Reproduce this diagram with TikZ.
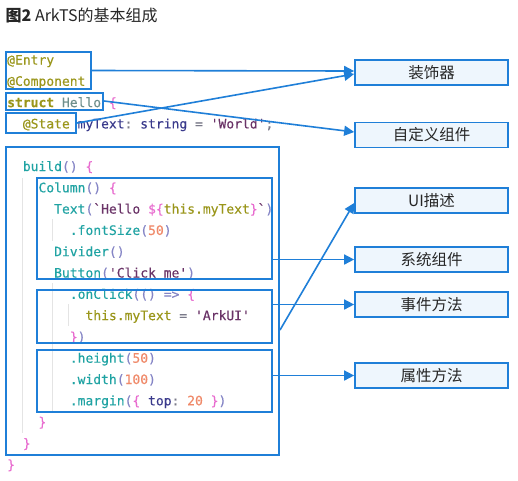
\documentclass[tikz,border=0pt]{standalone}
\usepackage{fontspec}
\setmonofont{DejaVu Sans Mono}[FakeBold=0.25]
\newfontfamily\cjkfont{Noto Sans CJK SC}
\usetikzlibrary{arrows.meta}
\definecolor{boxblue}{HTML}{1F7FD8}
\definecolor{boxfill}{HTML}{EEF6FD}
\definecolor{cAnno}{HTML}{9A961A}
\definecolor{cHello}{HTML}{6F8F8C}
\definecolor{cBrace}{HTML}{E86BCF}
\definecolor{cVar}{HTML}{3A3A8C}
\definecolor{cStr}{HTML}{6B3468}
\definecolor{cFun}{HTML}{1FA3A3}
\definecolor{cPar}{HTML}{8585C6}
\definecolor{cNum}{HTML}{F08A6A}
\definecolor{cOp}{HTML}{7A7A8A}
\definecolor{guide}{HTML}{E4E4E4}
\newcommand\kAnno[1]{\textcolor{cAnno}{#1}}
\newcommand\kHello[1]{\textcolor{cHello}{#1}}
\newcommand\kBrace[1]{\textcolor{cBrace}{#1}}
\newcommand\kVar[1]{\textcolor{cVar}{#1}}
\newcommand\kStr[1]{\textcolor{cStr}{#1}}
\newcommand\kFun[1]{\textcolor{cFun}{#1}}
\newcommand\kPar[1]{\textcolor{cPar}{#1}}
\newcommand\kNum[1]{\textcolor{cNum}{#1}}
\newcommand\kOp[1]{\textcolor{cOp}{#1}}
\newcommand\codeline[4]{\node[codetxt] (#1) at ({7+7.83*#2},{64.5+21.3*#3}) {#4};}
\begin{document}
\begin{tikzpicture}[x=1pt,y=-1pt,
  codetxt/.style={anchor=base west, inner sep=0pt, font=\ttfamily\fontsize{13}{15}\selectfont},
  cbox/.style={draw=boxblue, line width=2pt, rectangle, inner sep=0pt},
  lbl/.style={draw=boxblue, line width=1.7pt, fill=boxfill, rectangle, minimum width=153pt, minimum height=25pt, inner sep=0pt, text=black!85, font=\cjkfont\fontsize{15.5}{18}\selectfont},
  arr/.style={draw=boxblue, line width=1.6pt, -{Triangle[length=10pt,width=10pt]}},
  guideline/.style={draw=guide, line width=1pt}]
\useasboundingbox (0,0) rectangle (518,480);
\fill[white] (0,0) rectangle (518,480);
% title
\node[anchor=base west, inner sep=0pt, font=\cjkfont\fontsize{16}{19}\selectfont, text=black!85] (title) at (5.5,21.5) {\textbf{图2} ArkTS的基本组成};
% indent guides
\draw[guideline] (22,178) -- (22,433);
\draw[guideline] (52,219) -- (52,241);
\draw[guideline] (52,283) -- (52,411);
\draw[guideline] (68,304) -- (68,326);
% code
\codeline{l0}{0}{0}{\kAnno{@Entry}}
\codeline{l1}{0}{1}{\kAnno{@Component}}
\codeline{l2}{0}{2}{\kAnno{\textbf{struct}} \kHello{Hello} \kBrace{\{}}
\codeline{l3}{2}{3}{\kAnno{@State} \kVar{myText}\kOp{:} \kVar{string} \kOp{=} \kStr{'World'}\kOp{;}}
\codeline{l5}{2}{5}{\kFun{build}\kPar{()} \kBrace{\{}}
\codeline{l6}{4}{6}{\kFun{Column}\kPar{()} \kBrace{\{}}
\codeline{l7}{6}{7}{\kFun{Text}\kPar{(}\kStr{`Hello }\kBrace{\$\{}\kAnno{this.myText}\kBrace{\}}\kStr{`}\kPar{)}}
\codeline{l8}{8}{8}{\kFun{.fontSize}\kPar{(}\kNum{50}\kPar{)}}
\codeline{l9}{6}{9}{\kFun{Divider}\kPar{()}}
\codeline{l10}{6}{10}{\kFun{Button}\kPar{(}\kStr{'Click me'}\kPar{)}}
\codeline{l11}{8}{11}{\kFun{.onClick}\kPar{(() =>} \kBrace{\{}}
\codeline{l12}{10}{12}{\kAnno{this.myText} \kOp{=} \kStr{'ArkUI'}}
\codeline{l13}{8}{13}{\kBrace{\}}\kPar{)}}
\codeline{l14}{8}{14}{\kFun{.height}\kPar{(}\kNum{50}\kPar{)}}
\codeline{l15}{8}{15}{\kFun{.width}\kPar{(}\kNum{100}\kPar{)}}
\codeline{l16}{8}{16}{\kFun{.margin}\kPar{(}\kBrace{\{} \kVar{top}\kOp{:} \kNum{20} \kBrace{\}}\kPar{)}}
\codeline{l17}{4}{17}{\kBrace{\}}}
\codeline{l18}{2}{18}{\kBrace{\}}}
\codeline{l19}{0}{19}{\kBrace{\}}}
% code boxes
\node[cbox, minimum width=84.5pt, minimum height=37pt] (bDeco) at (48.25,70.5) {};
\node[cbox, minimum width=97pt, minimum height=17pt] (bStruct) at (54.5,101) {};
\node[cbox, minimum width=70pt, minimum height=20pt] (bState) at (41,123) {};
\node[cbox, minimum width=273pt, minimum height=308pt] (bBuild) at (142.5,301) {};
\node[cbox, minimum width=235pt, minimum height=101pt] (bColumn) at (154.5,228.5) {};
\node[cbox, minimum width=235pt, minimum height=53pt] (bClick) at (154.5,316.5) {};
\node[cbox, minimum width=235pt, minimum height=62pt] (bAttr) at (154.5,381) {};
% label boxes
\node[lbl] (rDeco) at (431.5,72.5) {装饰器};
\node[lbl] (rCustom) at (431.5,135) {自定义组件};
\node[lbl] (rUI) at (431.5,200.5) {UI描述};
\node[lbl] (rSys) at (431.5,259.5) {系统组件};
\node[lbl] (rEvt) at (431.5,304.5) {事件方法};
\node[lbl] (rAttr) at (431.5,375.5) {属性方法};
% arrows
\draw[arr] (bDeco.east) -- ([yshift=1.5pt]rDeco.west);
\draw[arr] (bState.east) -- ([yshift=-1.5pt]rDeco.west);
\draw[arr] (bStruct.east) -- ([yshift=3pt]rCustom.west);
\draw[arr] ([yshift=-29pt]bBuild.east) -- ([yshift=-2.5pt]rUI.west);
\draw[arr] (bColumn.east |- rSys.west) -- (rSys.west);
\draw[arr] (bClick.east |- rEvt.west) -- (rEvt.west);
\draw[arr] (bAttr.east |- rAttr.west) -- (rAttr.west);
\end{tikzpicture}
\end{document}
